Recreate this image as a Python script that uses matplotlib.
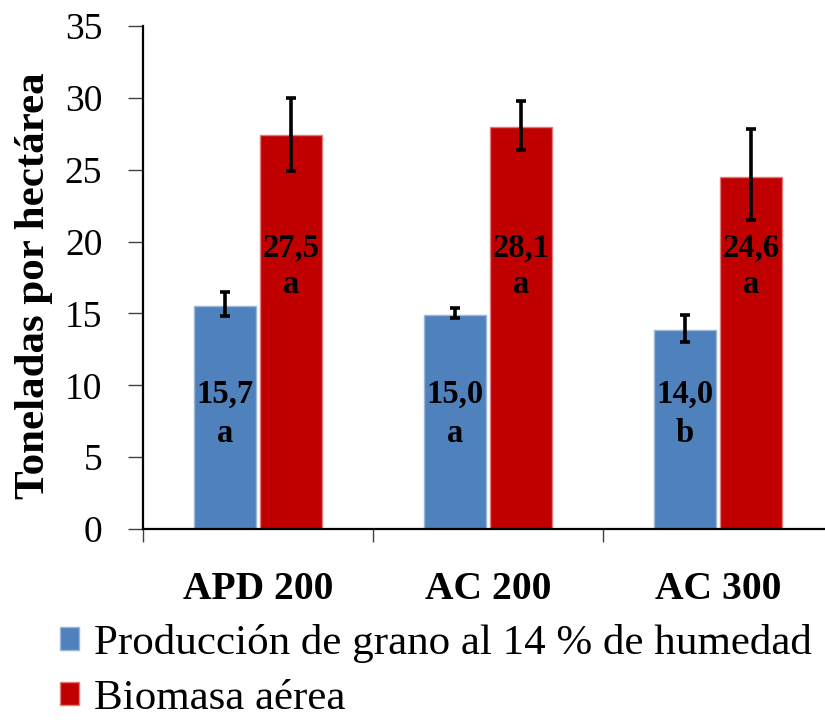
import numpy as np
from matplotlib import pyplot as plt
from matplotlib.patches import Patch

# data
categories = ['APD 200', 'AC 200', 'AC 300']
grain = [15.5, 14.9, 13.85]
grain_lo = [14.8, 14.7, 13.0]
grain_hi = [16.5, 15.4, 14.9]
biomass = [27.4, 27.95, 24.5]
biomass_lo = [24.9, 26.4, 21.5]
biomass_hi = [30.0, 29.8, 27.8]
grain_labels = ['15,7', '15,0', '14,0']
grain_letters = ['a', 'a', 'b']
biomass_labels = ['27,5', '28,1', '24,6']
biomass_letters = ['a', 'a', 'a']
series_names = ['Producción de grano al 14 % de humedad', 'Biomasa aérea']

blue = '#4F81BD'
red = '#C00000'

plt.rcParams['font.family'] = ['Liberation Serif', 'DejaVu Serif']

fig = plt.figure(figsize=(8.25, 7.26), dpi=100)
ax = fig.add_axes([143 / 825, 1 - 529 / 726, 690 / 825, 503 / 726])

x = np.arange(len(categories))
w = 0.27
off = 0.145

g = np.array(grain)
b = np.array(biomass)
g_err = [g - np.array(grain_lo), np.array(grain_hi) - g]
b_err = [b - np.array(biomass_lo), np.array(biomass_hi) - b]

ax.bar(x - off, g, w, color=blue, edgecolor='#9CB6D8', linewidth=1, zorder=2)
ax.bar(x + off, b, w, color=red, edgecolor='#E07A7A', linewidth=1, zorder=2)
ax.errorbar(x - off, g, yerr=g_err, fmt='none', ecolor='black',
            elinewidth=2.6, capsize=3.6, capthick=2.6, zorder=3)
ax.errorbar(x + off, b, yerr=b_err, fmt='none', ecolor='black',
            elinewidth=2.6, capsize=3.6, capthick=2.6, zorder=3)

# labels inside the bars
for i in range(len(categories)):
    ax.text(x[i] - off, 8.77, grain_labels[i], ha='center', va='baseline',
            fontsize=23.5, fontweight='bold', zorder=4)
    ax.text(x[i] - off, 6.05, grain_letters[i], ha='center', va='baseline',
            fontsize=23.5, fontweight='bold', zorder=4)
    ax.text(x[i] + off, 18.93, biomass_labels[i], ha='center', va='baseline',
            fontsize=23.5, fontweight='bold', zorder=4)
    ax.text(x[i] + off, 16.42, biomass_letters[i], ha='center', va='baseline',
            fontsize=23.5, fontweight='bold', zorder=4)

ax.set_xlim(-0.5, 2.5)
ax.set_ylim(0, 35)
ax.set_yticks(np.arange(0, 36, 5))
ax.set_xticks(x)
ax.set_xticklabels(categories, fontsize=28.5, fontweight='bold')
ax.set_xticks(np.arange(-0.5, 3.0, 1.0), minor=True)

ax.spines['top'].set_visible(False)
ax.spines['right'].set_visible(False)
ax.spines['left'].set_linewidth(1.6)
ax.spines['bottom'].set_linewidth(1.6)

ax.tick_params(axis='y', direction='out', length=10.8, width=1, color='#404040',
               pad=18.5, labelsize=27)
ax.tick_params(axis='x', which='major', length=0, pad=30)
ax.tick_params(axis='x', which='minor', direction='out', length=9.5, width=1,
               color='#404040')

ax.set_ylabel('Toneladas por hectárea', fontsize=31, fontweight='bold')
ax.yaxis.set_label_coords(-0.130, 0.483)

handles = [Patch(facecolor=blue, edgecolor='#9CB6D8'),
           Patch(facecolor=red, edgecolor='#E07A7A')]
fig.legend(handles, series_names, loc='upper left',
           bbox_to_anchor=(60 / 825, 1 - 624 / 726), frameon=False,
           fontsize=31, handlelength=0.45, handleheight=0.45,
           handletextpad=0.34, labelspacing=0.38, borderpad=0, borderaxespad=0)

fig.savefig('out.png', dpi=100)
